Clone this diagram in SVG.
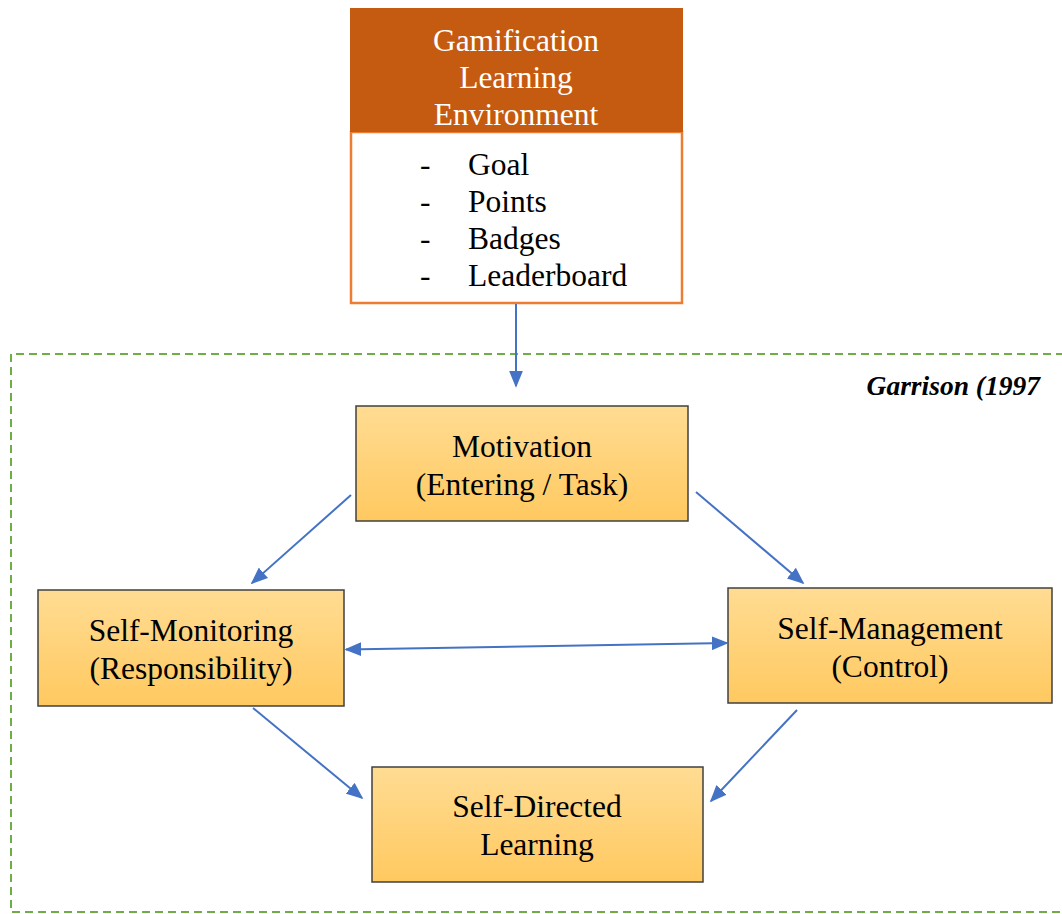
<svg xmlns="http://www.w3.org/2000/svg" width="1062" height="914" viewBox="0 0 1062 914">
  <defs>
    <linearGradient id="gold" x1="0" y1="0" x2="0" y2="1">
      <stop offset="0" stop-color="#FFDC93"/>
      <stop offset="1" stop-color="#FFC960"/>
    </linearGradient>
    <marker id="head" viewBox="0 0 10 10" refX="9" refY="5" markerWidth="17" markerHeight="14" orient="auto-start-reverse" markerUnits="userSpaceOnUse" preserveAspectRatio="none">
      <path d="M0,0 L10,5 L0,10 Z" fill="#4472C4"/>
    </marker>
  </defs>
  <style>
    .t { font-family: "Liberation Serif", "Times New Roman", serif; font-size: 31.5px; fill: #000; }
    .hdr { fill: #FFFFFF; }
    .cite { font-size: 27.5px; font-weight: bold; font-style: italic; }
    .box { fill: url(#gold); stroke: #404040; stroke-width: 1.5; }
    .link { fill: none; stroke: #4472C4; stroke-width: 2; marker-end: url(#head); }
    .frame { fill: none; stroke: #70AD47; stroke-width: 2; stroke-dasharray: 8 5; }
  </style>

  <rect width="1062" height="914" fill="#FFFFFF"/>

  <!-- dashed model frame -->
  <g id="frame">
    <path class="frame" d="M1064,354 L11,354 L11,912 L1064,912"/>
    <text class="t cite" x="1040" y="395" text-anchor="end">Garrison (1997</text>
  </g>

  <!-- gamification learning environment -->
  <g id="gamification">
    <rect x="351" y="132" width="331" height="171" fill="#FFFFFF" stroke="#ED7D31" stroke-width="2.5"/>
    <rect x="350" y="8" width="333" height="124" fill="#C55A11"/>
    <text class="t hdr" x="516" y="51" text-anchor="middle">Gamification</text>
    <text class="t hdr" x="516" y="88" text-anchor="middle">Learning</text>
    <text class="t hdr" x="516" y="125" text-anchor="middle">Environment</text>
    <text class="t" x="420" y="175">-</text>
    <text class="t" x="468" y="175">Goal</text>
    <text class="t" x="420" y="212">-</text>
    <text class="t" x="468" y="212">Points</text>
    <text class="t" x="420" y="249">-</text>
    <text class="t" x="468" y="249">Badges</text>
    <text class="t" x="420" y="286">-</text>
    <text class="t" x="468" y="286">Leaderboard</text>
  </g>

  <g id="motivation">
    <rect class="box" x="356" y="406" width="332" height="115"/>
    <text class="t" x="522" y="457" text-anchor="middle">Motivation</text>
    <text class="t" x="522" y="495" text-anchor="middle">(Entering / Task)</text>
  </g>

  <g id="self-monitoring">
    <rect class="box" x="38" y="590" width="306" height="116"/>
    <text class="t" x="191" y="641" text-anchor="middle">Self-Monitoring</text>
    <text class="t" x="191" y="679" text-anchor="middle">(Responsibility)</text>
  </g>

  <g id="self-management">
    <rect class="box" x="728" y="588" width="324" height="115"/>
    <text class="t" x="890" y="639" text-anchor="middle">Self-Management</text>
    <text class="t" x="890" y="677" text-anchor="middle">(Control)</text>
  </g>

  <g id="self-directed">
    <rect class="box" x="372" y="767" width="331" height="115"/>
    <text class="t" x="537" y="817" text-anchor="middle">Self-Directed</text>
    <text class="t" x="537" y="855" text-anchor="middle">Learning</text>
  </g>

  <!-- connectors -->
  <g id="connectors">
    <line class="link" x1="516" y1="304" x2="516" y2="386"/>
    <line class="link" x1="351" y1="495" x2="252" y2="583"/>
    <line class="link" x1="696" y1="492" x2="803" y2="583"/>
    <line class="link" x1="346" y1="649.5" x2="727" y2="643" marker-start="url(#head)"/>
    <line class="link" x1="253" y1="708" x2="362" y2="798"/>
    <line class="link" x1="797" y1="710" x2="711" y2="801"/>
  </g>
</svg>
